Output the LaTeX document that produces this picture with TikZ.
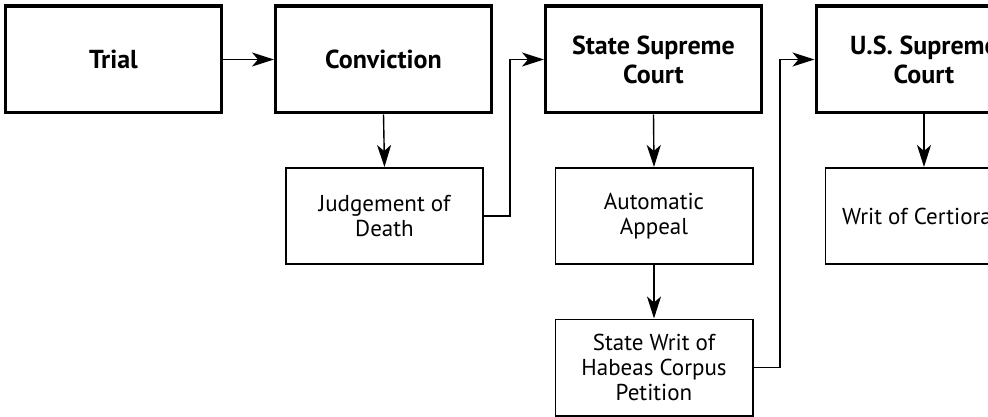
\documentclass[tikz,border=0pt]{standalone}
\usepackage{fontspec}
\setmainfont{PT Sans}
\usetikzlibrary{arrows.meta}
\begin{document}
\begin{tikzpicture}[x=1pt,y=-1pt,
  bigbox/.style={draw, line width=3.3pt, minimum width=215.7pt, minimum height=106.7pt,
    align=center, inner sep=0pt, font=\fontsize{26}{29}\selectfont\bfseries},
  smallbox/.style={draw, line width=1.7pt, minimum width=197.3pt, minimum height=96.3pt,
    align=center, inner sep=0pt, font=\fontsize{23}{25}\selectfont},
  arr/.style={line width=1.4pt, -{Stealth[length=22pt,width=14pt,inset=6pt]}}]
\useasboundingbox (0,0) rectangle (988,417);
\clip (0,0) rectangle (988,417);
\node[bigbox] (tr) at (113.5,59.5) {Trial};
\node[bigbox] (cv) at (383.5,59.5) {Conviction};
\node[bigbox] (ss) at (653.5,59.5) {State Supreme\\Court};
\node[bigbox] (us) at (924,59.5) {U.S. Supreme\\Court};
\node[smallbox] (jd) at (384.5,216) {Judgement of\\Death};
\node[smallbox] (aa) at (654,216) {Automatic\\Appeal};
\node[smallbox] (hb) at (654,367.5) {State Writ of\\Habeas Corpus\\Petition};
\node[smallbox] (wc) at (924,216) {Writ of Certiorari};
\coordinate (k1) at (510,0);
\coordinate (k2) at (780,0);
\draw[arr] (tr.east) -- (cv.west);
\draw[arr] (cv.south) -- (jd.north);
\draw[arr] (jd.east) -- (jd.east -| k1) |- (ss.west);
\draw[arr] (ss.south) -- (aa.north);
\draw[arr] (aa.south) -- (hb.north);
\draw[arr] (hb.east) -- (hb.east -| k2) |- (us.west);
\draw[arr] (us.south) -- (wc.north);
\end{tikzpicture}
\end{document}
